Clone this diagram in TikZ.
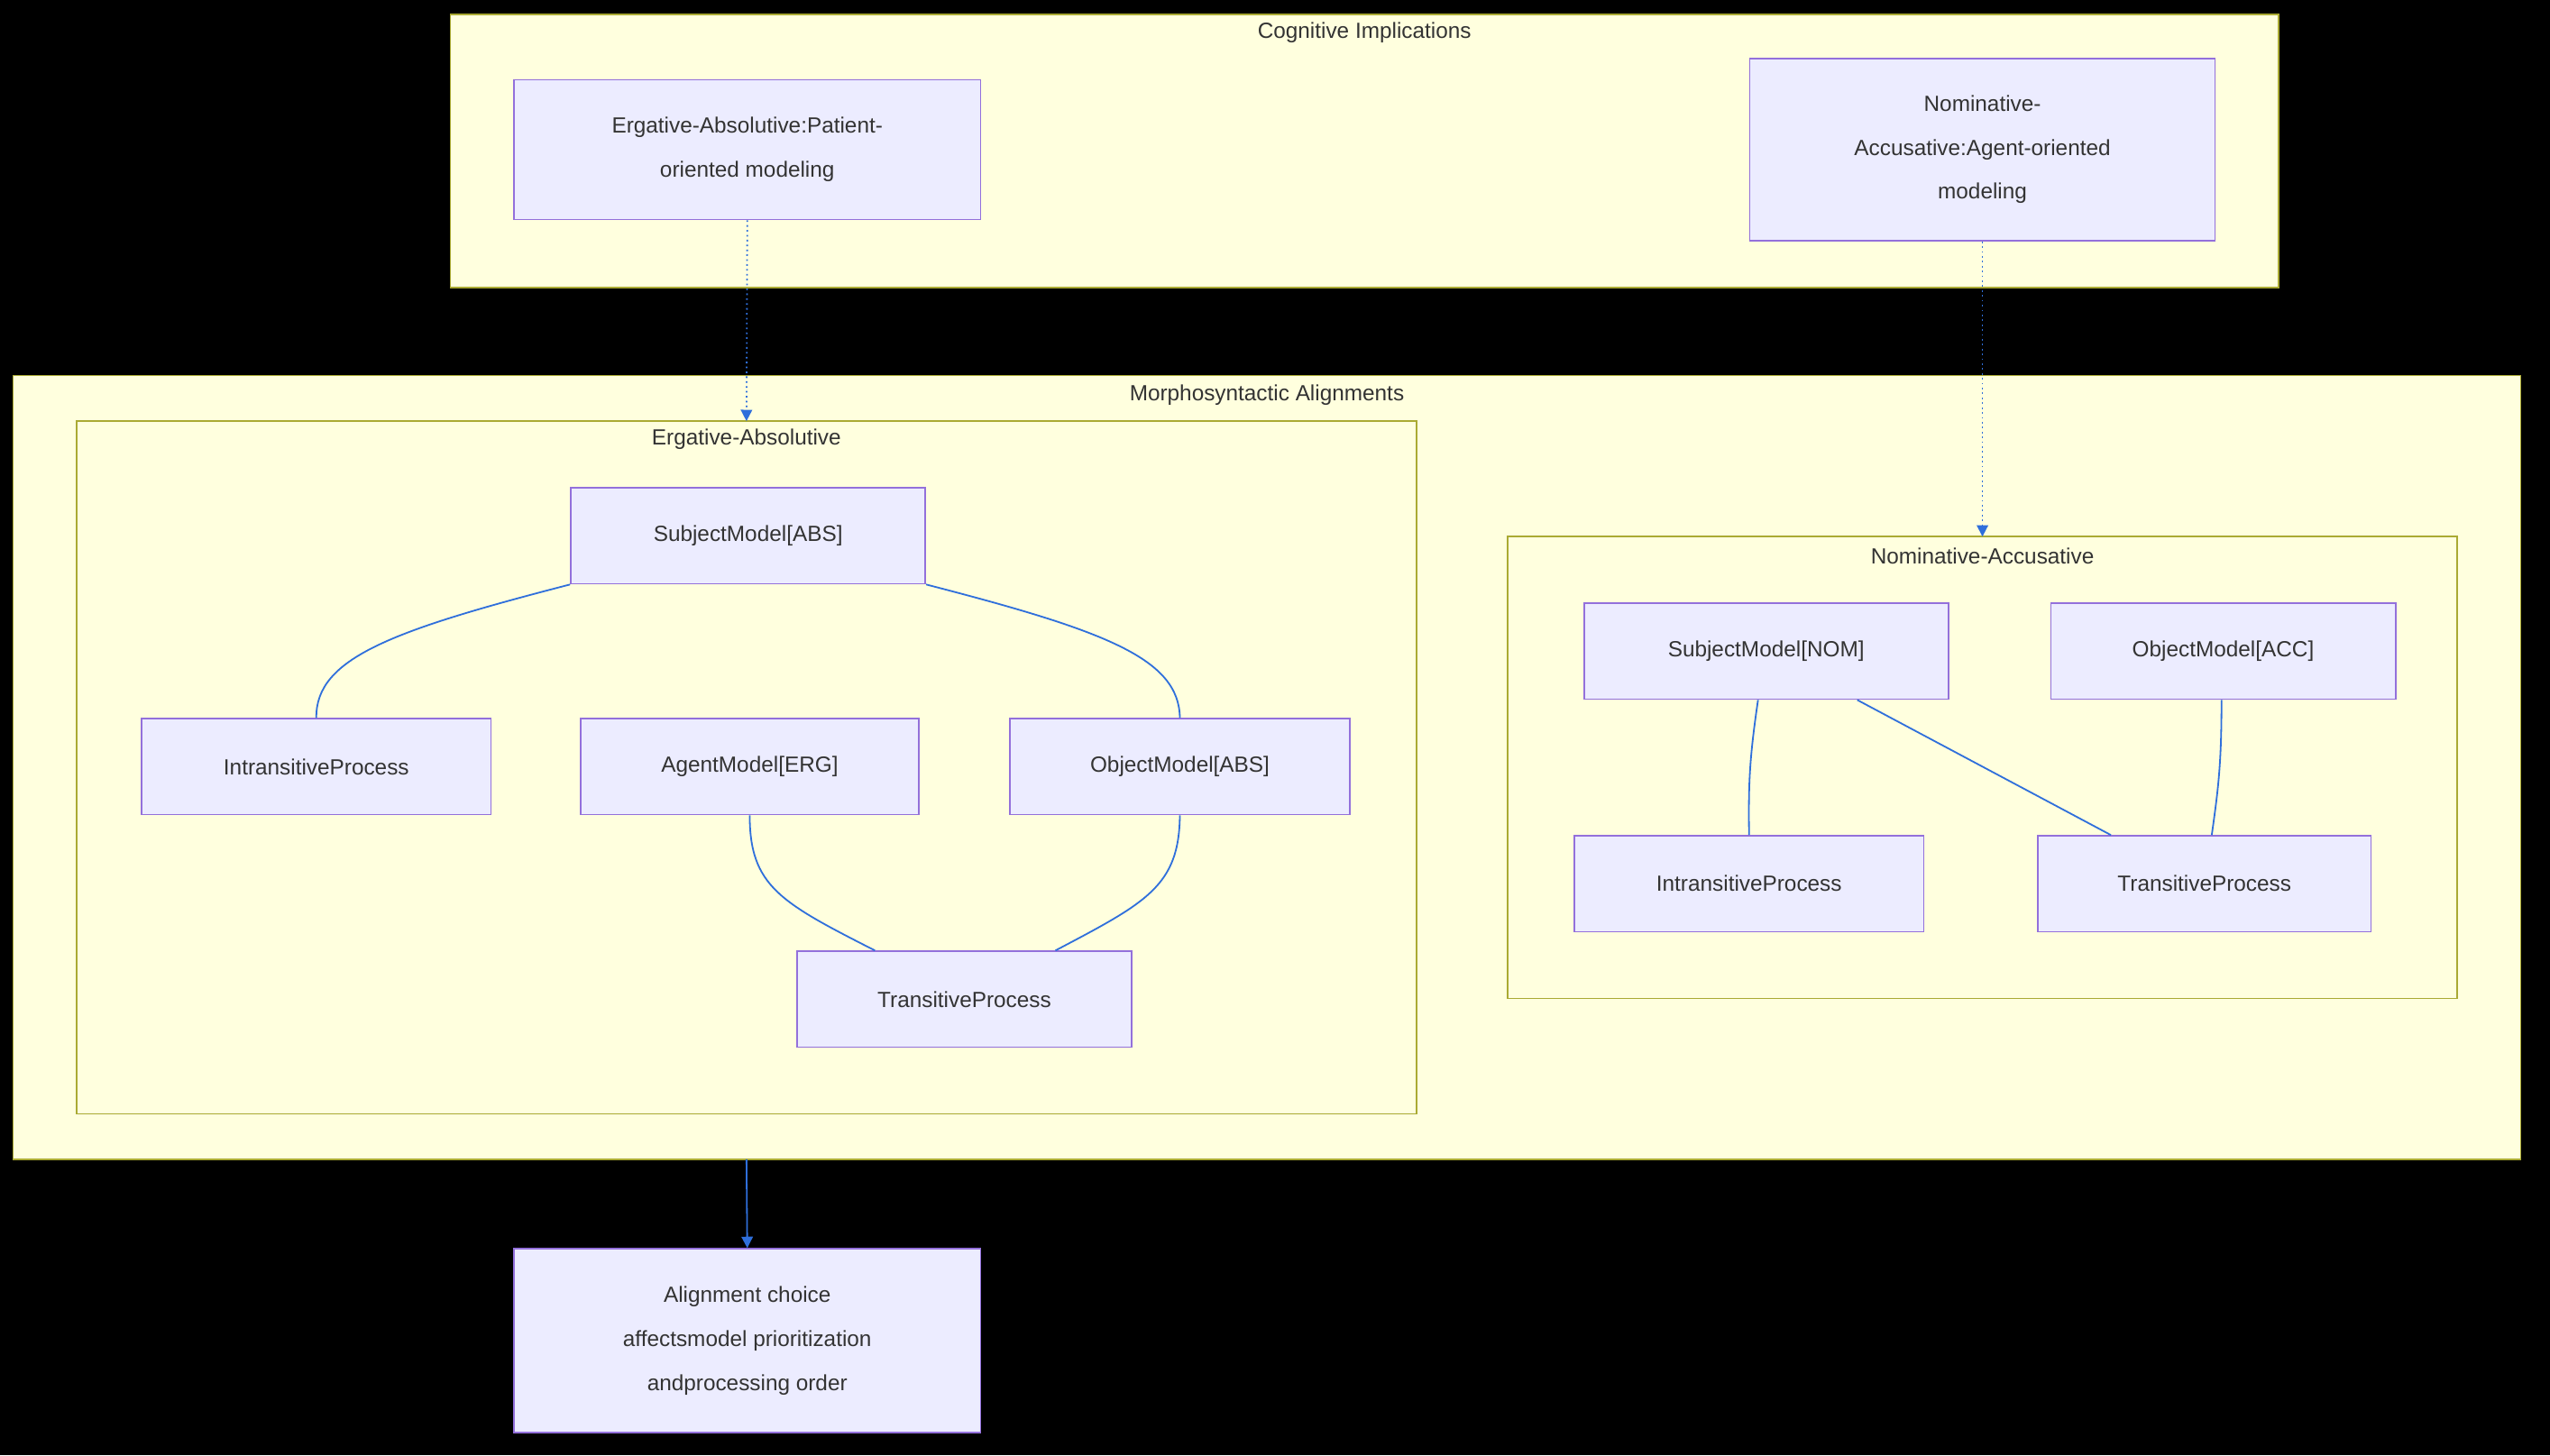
\documentclass[tikz,border=0pt]{standalone}
\usepackage{fontspec}
\setmainfont{Liberation Sans}
\usetikzlibrary{arrows.meta}
\definecolor{nfill}{HTML}{ECECFF}
\definecolor{nline}{HTML}{9370DB}
\definecolor{cfill}{HTML}{FFFFDE}
\definecolor{cline}{HTML}{AAAA33}
\definecolor{eline}{HTML}{2F6FDB}
\definecolor{txt}{HTML}{333333}
\tikzset{
 nbox/.style={draw=nline,fill=nfill,line width=0.9pt,inner sep=0pt,align=center,text=txt,font=\fontsize{13.5}{27}\selectfont},
 cbox/.style={draw=cline,fill=cfill,line width=0.9pt},
 ctitle/.style={text=txt,font=\fontsize{13.5}{16}\selectfont,anchor=center},
 edge/.style={draw=eline,line width=1pt},
 arr/.style={edge,-{Triangle[length=7pt,width=7pt]}},
}
\begin{document}
\begin{tikzpicture}[x=1pt,y=-1pt]
\fill[black] (0,0) rectangle (1568,895);
\useasboundingbox (0,0) rectangle (1568,895);
% clusters
\draw[cbox] (277,9) rectangle (1401,177);
\node[ctitle] (t1) at (839,20) {Cognitive Implications};
\draw[cbox] (8,231) rectangle (1550,713);
\node[ctitle] (t2) at (779,243) {Morphosyntactic Alignments};
\draw[cbox] (47,259) rectangle (871,685);
\node[ctitle] (t3) at (459,270) {Ergative-Absolutive};
\draw[cbox] (927,330) rectangle (1511,614);
\node[ctitle] (t4) at (1219,342) {Nominative-Accusative};
\coordinate (eatop) at (459,259);
\coordinate (natop) at (1219,330);
\coordinate (mbot) at (459,713);
% nodes
\node[nbox,minimum width=287,minimum height=86] (pat) at (459.5,92) {Ergative-Absolutive:Patient-\\oriented modeling};
\node[nbox,minimum width=286,minimum height=112] (ag) at (1219,92) {Nominative-\\Accusative:Agent-oriented\\modeling};
\node[nbox,minimum width=218,minimum height=59] (sabs) at (460,329.5) {SubjectModel[ABS]};
\node[nbox,minimum width=215,minimum height=59] (iea) at (194.5,471.5) {IntransitiveProcess};
\node[nbox,minimum width=208,minimum height=59] (erg) at (461,471.5) {AgentModel[ERG]};
\node[nbox,minimum width=209,minimum height=59] (oabs) at (725.5,471.5) {ObjectModel[ABS]};
\node[nbox,minimum width=206,minimum height=59] (tea) at (593,614.5) {TransitiveProcess};
\node[nbox,minimum width=224,minimum height=59] (snom) at (1086,400.5) {SubjectModel[NOM]};
\node[nbox,minimum width=212,minimum height=59] (oacc) at (1367,400.5) {ObjectModel[ACC]};
\node[nbox,minimum width=215,minimum height=59] (ina) at (1075.5,543.5) {IntransitiveProcess};
\node[nbox,minimum width=205,minimum height=59] (tna) at (1355.5,543.5) {TransitiveProcess};
\node[nbox,minimum width=287,minimum height=113] (res) at (459.5,824.5) {Alignment choice\\affectsmodel prioritization\\andprocessing order};
% edges
\draw[arr,dotted] (pat.south) -- (eatop);
\draw[arr,dotted] (ag.south) -- (natop);
\draw[arr] (mbot) -- (res.north);
\draw[edge] (sabs.south west) .. controls (240,388) and (194,405) .. (iea.north);
\draw[edge] (sabs.south east) .. controls (680,388) and (725,405) .. (oabs.north);
\draw[edge] (erg.south) .. controls (461,545) and (480,555) .. (tea.north -| 538,0);
\draw[edge] (oabs.south) .. controls (725,545) and (705,555) .. (tea.north -| 649,0);
\draw[edge] (snom.south -| 1081,0) .. controls (1076,465) and (1075,480) .. (ina.north);
\draw[edge] (snom.south -| 1142,0) -- (tna.north -| 1298,0);
\draw[edge] (oacc.south -| 1366,0) .. controls (1366,470) and (1364,485) .. (tna.north -| 1360,0);
\end{tikzpicture}
\end{document}
